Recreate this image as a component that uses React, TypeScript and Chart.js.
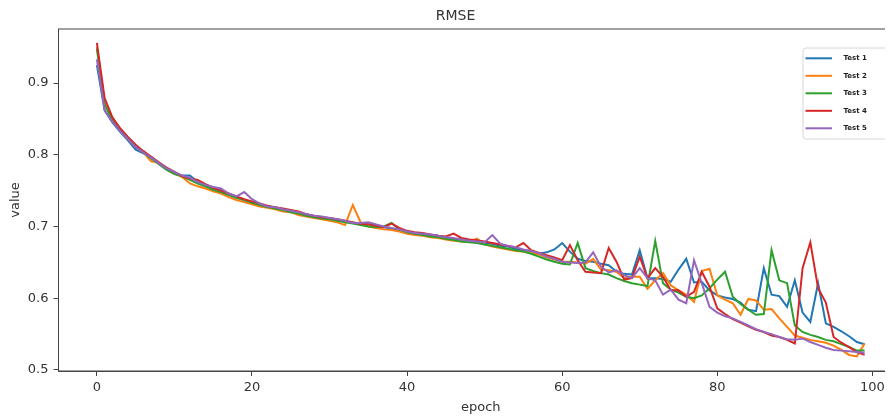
import React, { useEffect, useRef } from "react";
import { Chart, registerables } from "chart.js";

Chart.register(...registerables);

const epochs: number[] = Array.from({ length: 100 }, (_, i) => i);

const test1: number[] = [
  0.925, 0.862, 0.845, 0.832, 0.820, 0.807, 0.802, 0.797, 0.789, 0.781,
  0.775, 0.771, 0.771, 0.762, 0.757, 0.753, 0.750, 0.745, 0.741, 0.737,
  0.734, 0.731, 0.728, 0.726, 0.724, 0.722, 0.719, 0.717, 0.714, 0.713,
  0.711, 0.709, 0.707, 0.705, 0.705, 0.703, 0.702, 0.699, 0.697, 0.695,
  0.693, 0.690, 0.689, 0.688, 0.687, 0.685, 0.683, 0.682, 0.680, 0.679,
  0.677, 0.676, 0.673, 0.672, 0.669, 0.667, 0.666, 0.662, 0.664, 0.668,
  0.677, 0.665, 0.655, 0.652, 0.651, 0.648, 0.646, 0.637, 0.634, 0.633,
  0.667, 0.628, 0.628, 0.627, 0.623, 0.640, 0.655, 0.622, 0.623, 0.611,
  0.604, 0.601, 0.599, 0.594, 0.584, 0.582, 0.642, 0.605, 0.603, 0.588,
  0.625, 0.580, 0.567, 0.621, 0.565, 0.560, 0.554, 0.547, 0.539, 0.536,
];

const test2: number[] = [
  0.950, 0.873, 0.848, 0.834, 0.822, 0.811, 0.803, 0.791, 0.789, 0.780,
  0.774, 0.769, 0.760, 0.756, 0.753, 0.749, 0.746, 0.741, 0.737, 0.734,
  0.731, 0.728, 0.726, 0.724, 0.721, 0.720, 0.716, 0.714, 0.712, 0.710,
  0.708, 0.706, 0.702, 0.730, 0.706, 0.700, 0.698, 0.696, 0.695, 0.693,
  0.690, 0.688, 0.687, 0.685, 0.684, 0.682, 0.680, 0.679, 0.679, 0.683,
  0.675, 0.672, 0.670, 0.668, 0.666, 0.665, 0.663, 0.661, 0.657, 0.654,
  0.651, 0.651, 0.650, 0.648, 0.655, 0.640, 0.639, 0.637, 0.628, 0.630,
  0.630, 0.613, 0.625, 0.635, 0.618, 0.611, 0.605, 0.595, 0.638, 0.641,
  0.604, 0.598, 0.593, 0.577, 0.599, 0.597, 0.584, 0.585, 0.572, 0.560,
  0.548, 0.545, 0.542, 0.540, 0.538, 0.534, 0.528, 0.521, 0.519, 0.537,
];

const test3: number[] = [
  0.948, 0.870, 0.848, 0.834, 0.822, 0.812, 0.803, 0.795, 0.787, 0.779,
  0.773, 0.770, 0.765, 0.760, 0.756, 0.751, 0.748, 0.744, 0.740, 0.737,
  0.733, 0.730, 0.727, 0.725, 0.723, 0.720, 0.718, 0.715, 0.713, 0.711,
  0.710, 0.708, 0.706, 0.704, 0.702, 0.700, 0.699, 0.700, 0.705, 0.696,
  0.692, 0.690, 0.688, 0.686, 0.685, 0.683, 0.681, 0.679, 0.678, 0.677,
  0.675, 0.673, 0.671, 0.669, 0.667, 0.665, 0.662, 0.658, 0.654, 0.651,
  0.648, 0.647, 0.677, 0.642, 0.638, 0.635, 0.633, 0.628, 0.624, 0.621,
  0.619, 0.617, 0.680, 0.621, 0.612, 0.608, 0.602, 0.600, 0.604, 0.614,
  0.626, 0.637, 0.602, 0.592, 0.584, 0.577, 0.578, 0.667, 0.625, 0.621,
  0.562, 0.553, 0.549, 0.546, 0.542, 0.540, 0.536, 0.532, 0.527, 0.527,
];

const test4: number[] = [
  0.956, 0.879, 0.852, 0.837, 0.825, 0.814, 0.805, 0.797, 0.789, 0.782,
  0.776, 0.770, 0.767, 0.765, 0.759, 0.754, 0.750, 0.746, 0.742, 0.738,
  0.735, 0.732, 0.729, 0.727, 0.725, 0.723, 0.721, 0.717, 0.715, 0.713,
  0.712, 0.710, 0.708, 0.706, 0.704, 0.703, 0.701, 0.699, 0.704, 0.698,
  0.694, 0.692, 0.691, 0.689, 0.687, 0.686, 0.690, 0.684, 0.682, 0.681,
  0.679, 0.677, 0.675, 0.673, 0.671, 0.677, 0.667, 0.663, 0.660, 0.657,
  0.653, 0.674, 0.653, 0.637, 0.636, 0.635, 0.670, 0.651, 0.626, 0.628,
  0.658, 0.628, 0.642, 0.630, 0.611, 0.611, 0.602, 0.609, 0.637, 0.616,
  0.586, 0.578, 0.571, 0.566, 0.561, 0.556, 0.553, 0.548, 0.546, 0.542,
  0.537, 0.642, 0.678, 0.614, 0.594, 0.546, 0.538, 0.532, 0.525, 0.521,
];

const test5: number[] = [
  0.933, 0.862, 0.846, 0.833, 0.822, 0.811, 0.803, 0.796, 0.788, 0.781,
  0.776, 0.771, 0.768, 0.762, 0.758, 0.755, 0.753, 0.746, 0.742, 0.748,
  0.738, 0.732, 0.728, 0.727, 0.724, 0.722, 0.720, 0.717, 0.715, 0.714,
  0.712, 0.710, 0.708, 0.705, 0.705, 0.706, 0.703, 0.700, 0.698, 0.696,
  0.693, 0.691, 0.690, 0.689, 0.687, 0.685, 0.684, 0.682, 0.680, 0.679,
  0.678, 0.688, 0.676, 0.673, 0.671, 0.668, 0.666, 0.663, 0.658, 0.655,
  0.651, 0.650, 0.649, 0.650, 0.664, 0.644, 0.636, 0.639, 0.632, 0.628,
  0.642, 0.628, 0.625, 0.605, 0.612, 0.598, 0.593, 0.653, 0.621, 0.588,
  0.580, 0.575, 0.572, 0.567, 0.562, 0.557, 0.553, 0.550, 0.546, 0.543,
  0.542, 0.544, 0.539, 0.535, 0.531, 0.528, 0.527, 0.526, 0.525, 0.524,
];

const seriesLabels: string[] = ["Test 1", "Test 2", "Test 3", "Test 4", "Test 5"];
const seriesValues: number[][] = [test1, test2, test3, test4, test5];
const seriesColors: string[] = ["#1f77b4", "#ff7f0e", "#2ca02c", "#d62728", "#9467bd"];

const xTicks: number[] = [0, 20, 40, 60, 80, 100];
const yTicks: number[] = [0.5, 0.6, 0.7, 0.8, 0.9];

const FONT = "'DejaVu Sans', sans-serif";
const TEXT = "#333333";

const framePlugin = {
  id: "frameAndLegend",
  afterDatasetsDraw(chart: any) {
    const ctx = chart.ctx;
    const ca = chart.chartArea;
    ctx.save();
    ctx.strokeStyle = "#444444";
    ctx.lineWidth = 1;
    ctx.strokeRect(ca.left, ca.top, ca.right - ca.left, ca.bottom - ca.top);

    // legend box (upper right)
    const w = 88;
    const h = 91;
    const x = ca.right - 12 - w;
    const y = ca.top + 19;
    const r = 3;
    ctx.beginPath();
    ctx.moveTo(x + r, y);
    ctx.lineTo(x + w - r, y);
    ctx.quadraticCurveTo(x + w, y, x + w, y + r);
    ctx.lineTo(x + w, y + h - r);
    ctx.quadraticCurveTo(x + w, y + h, x + w - r, y + h);
    ctx.lineTo(x + r, y + h);
    ctx.quadraticCurveTo(x, y + h, x, y + h - r);
    ctx.lineTo(x, y + r);
    ctx.quadraticCurveTo(x, y, x + r, y);
    ctx.closePath();
    ctx.fillStyle = "rgba(255,255,255,0.85)";
    ctx.fill();
    ctx.strokeStyle = "#d6d6d6";
    ctx.stroke();

    chart.data.datasets.forEach((ds: any, i: number) => {
      const ly = y + 10.3 + i * 17.5;
      ctx.beginPath();
      ctx.strokeStyle = ds.borderColor;
      ctx.lineWidth = 2;
      ctx.moveTo(x + 2.5, ly);
      ctx.lineTo(x + 29, ly);
      ctx.stroke();
      ctx.fillStyle = "#222222";
      ctx.font = `bold 7px ${FONT}`;
      ctx.textBaseline = "middle";
      ctx.textAlign = "left";
      ctx.fillText(ds.label, x + 40.5, ly);
    });
    ctx.restore();
  },
};

export default function App() {
  const ref = useRef<HTMLCanvasElement | null>(null);

  useEffect(() => {
    if (!ref.current) return;
    const chart = new Chart(ref.current, {
      type: "line",
      data: {
        datasets: seriesValues.map((vals, si) => ({
          label: seriesLabels[si],
          data: epochs.map((e, i) => ({ x: e, y: vals[i] })),
          borderColor: seriesColors[si],
          backgroundColor: seriesColors[si],
          borderWidth: 2,
          pointRadius: 0,
          tension: 0,
          fill: false,
          order: 5 - si,
        })),
      },
      options: {
        animation: false,
        responsive: false,
        maintainAspectRatio: false,
        layout: { padding: { left: 0, right: 15, top: 0, bottom: 0 } },
        plugins: {
          legend: { display: false },
          tooltip: { enabled: false },
          title: {
            display: true,
            text: "RMSE",
            color: TEXT,
            font: { family: FONT, size: 14, weight: "normal" },
            padding: { top: 0, bottom: 4.2 },
          },
        },
        scales: {
          x: {
            type: "linear",
            min: -4.95,
            max: 103.95,
            afterBuildTicks: (scale: any) => {
              scale.ticks = xTicks.map((v) => ({ value: v }));
            },
            afterFit: (scale: any) => {
              scale.height = 47;
            },
            grid: {
              display: true,
              drawOnChartArea: false,
              drawTicks: true,
              tickLength: 5,
              tickColor: "#444444",
            },
            border: { display: true, color: "#444444" },
            ticks: {
              color: TEXT,
              font: { family: FONT, size: 13 },
              padding: 4,
              maxRotation: 0,
            },
            title: {
              display: true,
              text: "epoch",
              color: TEXT,
              font: { family: FONT, size: 13 },
              padding: { top: 0, bottom: 3 },
            },
          },
          y: {
            type: "linear",
            min: 0.4986,
            max: 0.9753,
            afterBuildTicks: (scale: any) => {
              scale.ticks = yTicks.map((v) => ({ value: v }));
            },
            afterFit: (scale: any) => {
              scale.width = 50.5;
            },
            grid: {
              display: true,
              drawOnChartArea: false,
              drawTicks: true,
              tickLength: 5,
              tickColor: "#444444",
            },
            border: { display: true, color: "#444444" },
            ticks: {
              color: TEXT,
              font: { family: FONT, size: 13 },
              padding: 5,
              callback: (v: any) => Number(v).toFixed(1),
            },
            title: {
              display: true,
              text: "value",
              color: TEXT,
              font: { family: FONT, size: 13 },
              padding: { top: 0, bottom: 0 },
            },
          },
        },
      },
      plugins: [framePlugin],
    });
    return () => chart.destroy();
  }, []);

  return (
    <div style={{ width: 885, height: 410, overflow: "hidden" }}>
      <canvas ref={ref} width={910} height={410} style={{ display: "block", width: 910, height: 410 }} />
    </div>
  );
}
